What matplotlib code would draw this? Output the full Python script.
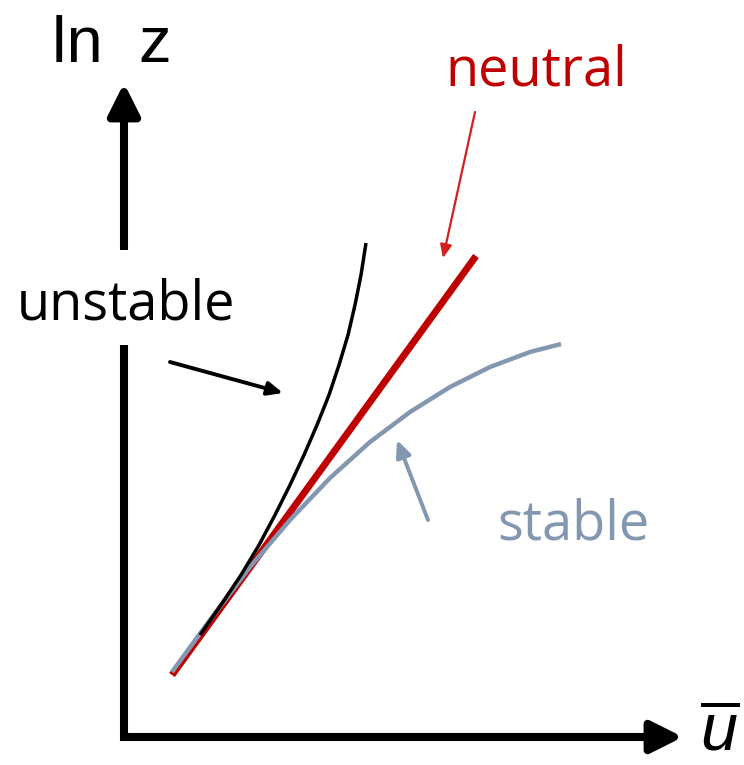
import matplotlib
matplotlib.use('Agg')
import matplotlib.pyplot as plt
import numpy as np

# schematic profiles: mean wind u (x) vs ln z (y), arbitrary units
neutral_u = [0.48, 3.52]
neutral_lnz = [0.62, 4.81]

unstable_u = [0.76, 0.97, 1.17, 1.35, 1.51, 1.66, 1.80, 1.93, 2.05, 2.15, 2.24, 2.31, 2.37, 2.42]
unstable_lnz = [1.02, 1.32, 1.62, 1.92, 2.22, 2.52, 2.82, 3.12, 3.42, 3.72, 4.02, 4.32, 4.62, 4.94]

stable_u = [0.48, 0.86, 1.26, 1.66, 2.06, 2.46, 2.86, 3.26, 3.66, 4.06, 4.37]
stable_lnz = [0.65, 1.17, 1.70, 2.17, 2.59, 2.95, 3.25, 3.50, 3.70, 3.85, 3.93]

red = '#C00000'
grey = '#8497B0'

plt.rcParams['mathtext.fontset'] = 'custom'
plt.rcParams['mathtext.rm'] = 'Liberation Sans'
plt.rcParams['mathtext.it'] = 'Liberation Sans:italic'

fig = plt.figure(figsize=(7.44, 7.65), dpi=100)
ax = fig.add_axes([0, 0, 1, 1])
ax.set_xlim(-1.24, 6.20)
ax.set_ylim(-0.28, 7.37)
ax.axis('off')

# axes with arrows
head = '-|>,head_length=19,head_width=9.5'
ax.plot([0, 0], [-0.04, 3.92], color='k', lw=5.8, solid_capstyle='butt')
ax.annotate('', xy=(0, 6.54), xytext=(0, 4.87),
            arrowprops=dict(arrowstyle=head, mutation_scale=1, lw=5.8, color='k',
                            shrinkA=0, shrinkB=0, capstyle='butt'))
ax.annotate('', xy=(5.59, 0), xytext=(-0.04, 0),
            arrowprops=dict(arrowstyle=head, mutation_scale=1, lw=5.8, color='k',
                            shrinkA=0, shrinkB=0, capstyle='butt'))

# profiles
ax.plot(neutral_u, neutral_lnz, color=red, lw=5.0, solid_capstyle='butt', zorder=2)
ax.plot(stable_u, stable_lnz, color=grey, lw=3.2, solid_capstyle='butt', solid_joinstyle='round', zorder=3)
ax.plot(unstable_u, unstable_lnz, color='k', lw=2.5, solid_capstyle='butt', solid_joinstyle='round', zorder=4)

# labels
ax.text(-0.72, 6.75, 'ln  z', fontsize=47, family='Liberation Sans', va='baseline', ha='left')
ax.text(5.76, -0.27, r'$\overline{u}$', fontsize=48, va='bottom', ha='left')
ax.text(3.21, 6.51, 'neutral', fontsize=39, family='Open Sans', color=red, va='baseline', ha='left')
ax.text(-1.07, 4.17, 'unstable', fontsize=39, family='Open Sans', color='k', va='baseline', ha='left')
ax.text(3.73, 1.97, 'stable', fontsize=39, family='Open Sans', color=grey, va='baseline', ha='left')

# pointer arrows
ax.annotate('', xy=(3.19, 4.79), xytext=(3.51, 6.25),
            arrowprops=dict(arrowstyle='-|>,head_length=8,head_width=3.5',
                            mutation_scale=1, lw=1.6, color='#D02020', shrinkA=0, shrinkB=0))
ax.annotate('', xy=(1.59, 3.44), xytext=(0.46, 3.75),
            arrowprops=dict(arrowstyle='-|>,head_length=9,head_width=4',
                            mutation_scale=1, lw=2.8, color='k', shrinkA=0, shrinkB=0))
ax.annotate('', xy=(2.73, 2.97), xytext=(3.04, 2.17),
            arrowprops=dict(arrowstyle='-|>,head_length=10,head_width=4.5',
                            mutation_scale=1, lw=2.8, color=grey, shrinkA=0, shrinkB=0))

fig.savefig('out.png', dpi=100)
